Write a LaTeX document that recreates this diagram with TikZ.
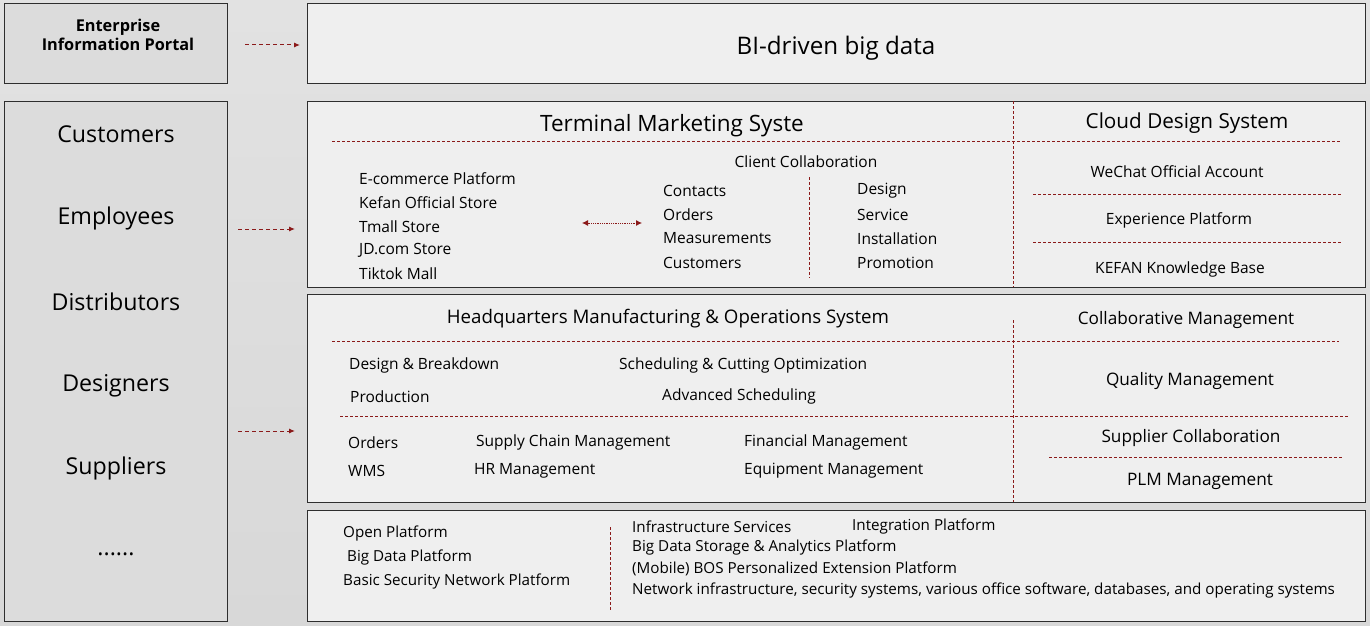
\documentclass[tikz,border=0pt]{standalone}
\usepackage{fontspec}
\setmainfont{Open Sans}
\usetikzlibrary{arrows.meta}
\definecolor{dred}{HTML}{8B1A1A}
\definecolor{boxline}{HTML}{2E2E2E}
\definecolor{bgA}{HTML}{E2E2E2}
\definecolor{bgB}{HTML}{D8D8D8}
\definecolor{lfill}{HTML}{DCDCDC}
\definecolor{rfill}{HTML}{EFEFEF}
\tikzset{
  box/.style={draw=boxline, line width=1.3pt, rectangle, inner sep=0pt, anchor=north west},
  lbox/.style={box, fill=lfill},
  rbox/.style={box, fill=rfill},
  rdash/.style={draw=dred, line width=1pt, dash pattern=on 3pt off 2pt},
  arr/.style={draw=dred, line width=1pt, dash pattern=on 4pt off 3pt, -{Latex[length=6pt,width=5pt]}},
  dbl/.style={draw=dred, line width=0.8pt, densely dotted, {Latex[length=6pt,width=6pt]}-{Latex[length=6pt,width=6pt]}},
  txt/.style={inner sep=0pt, yshift=-1.5pt},
  tb/.style={txt, font=\fontsize{15.5}{18}\selectfont},
  tl/.style={tb, anchor=west},
  tm/.style={txt, font=\fontsize{17.2}{20}\selectfont},
  tt/.style={txt, font=\fontsize{22.5}{26}\selectfont},
  tp/.style={txt, font=\fontsize{23.2}{28}\selectfont},
  tn/.style={tl, font=\fontsize{15.2}{18}\selectfont},
}
\begin{document}
\begin{tikzpicture}[x=1pt,y=-1pt]
\useasboundingbox (0,0) rectangle (1370,626);
\shade[top color=bgA, bottom color=bgB] (0,0) rectangle (1370,626);

% boxes
\node[lbox, minimum width=223pt, minimum height=80pt] (portal) at (4,3) {};
\node[rbox, minimum width=1058pt, minimum height=80pt] (bi) at (307,3) {};
\node[lbox, minimum width=223pt, minimum height=520pt] (users) at (4,101) {};
\node[rbox, minimum width=1058pt, minimum height=186pt] (term) at (307,101) {};
\node[rbox, minimum width=1058pt, minimum height=208pt] (hq) at (307,294) {};
\node[rbox, minimum width=1058pt, minimum height=111pt] (base) at (307,510) {};

% portal
\node[txt, align=center, font=\bfseries\fontsize{16.3}{19}\selectfont] (portalt) at (118,33) {Enterprise\\Information Portal};
\node[txt, font=\fontsize{24.2}{28}\selectfont] (bit) at (836,47) {BI-driven big data};

% users
\node[tp] (u1) at (116,133) {Customers};
\node[tp] (u2) at (116,217) {Employees};
\node[tp] (u3) at (116,300) {Distributors};
\node[tp] (u4) at (116,384) {Designers};
\node[tp] (u5) at (116,467) {Suppliers};
\node[tp] (u6) at (116,553) {......};

% arrows
\coordinate (a0) at (245,45);
\coordinate (a1) at (238,229);
\coordinate (a2) at (238,431);
\draw[arr] (a0) -- ([xshift=-7pt]bi.west |- a0);
\draw[arr] (a1) -- ([xshift=-12pt]term.west |- a1);
\draw[arr] (a2) -- ([xshift=-12pt]hq.west |- a2);

% terminal marketing
\draw[rdash] (1013,101) -- (1013,287);
\draw[rdash] (332,141) -- (1340,141);
\node[tt] (termt) at (672,124) {Terminal Marketing Syste};
\node[txt, font=\fontsize{20.7}{24}\selectfont] (cloudt) at (1187,122) {Cloud Design System};
\node[tb] (cc) at (806,160) {Client Collaboration};
\node[tl] (e1) at (359,177) {E-commerce Platform};
\node[tl] (e2) at (359,201) {Kefan Official Store};
\node[tl] (e3) at (359,225) {Tmall Store};
\node[tl] (e4) at (359,249) {JD.com Store};
\node[tl] (e5) at (359,272) {Tiktok Mall};
\coordinate (dl) at (582,223);
\coordinate (dr) at (642,223);
\draw[dbl] (dl) -- (dr);
\node[tl] (c1) at (663,189) {Contacts};
\node[tl] (c2) at (663,213) {Orders};
\node[tl] (c3) at (663,237) {Measurements};
\node[tl] (c4) at (663,261) {Customers};
\draw[rdash] (809,177) -- (809,278);
\node[tl] (d1) at (857,189) {Design};
\node[tl] (d2) at (857,213) {Service};
\node[tl] (d3) at (857,237) {Installation};
\node[tl] (d4) at (857,261) {Promotion};
\node[tb] (w1) at (1177,170) {WeChat Official Account};
\draw[rdash] (1033,194) -- (1342,194);
\node[tb] (w2) at (1179,219) {Experience Platform};
\draw[rdash] (1033,242) -- (1342,242);
\node[tb] (w3) at (1180,268) {KEFAN Knowledge Base};

% HQ
\node[txt, font=\fontsize{18.7}{22}\selectfont] (hqt) at (668,317) {Headquarters Manufacturing \& Operations System};
\node[tm] (colt) at (1186,319) {Collaborative Management};
\draw[rdash] (332,341) -- (1339,341);
\draw[rdash] (1013,320) -- (1013,502);
\node[tl] (h1) at (349,364) {Design \& Breakdown};
\node[tl] (h2) at (619,364) {Scheduling \& Cutting Optimization};
\node[tl] (h3) at (350,395) {Production};
\node[tl] (h4) at (662,395) {Advanced Scheduling};
\node[tm] (qm) at (1190,380) {Quality Management};
\draw[rdash] (340,416) -- (1348,416);
\node[tl] (o1) at (348,441) {Orders};
\node[tl] (o2) at (476,441) {Supply Chain Management};
\node[tl] (o3) at (744,441) {Financial Management};
\node[tl] (o4) at (348,469) {WMS};
\node[tl] (o5) at (474,469) {HR Management};
\node[tl] (o6) at (744,469) {Equipment Management};
\node[tm] (sc) at (1191,437) {Supplier Collaboration};
\draw[rdash] (1049,457) -- (1343,457);
\node[tm] (plm) at (1200,480) {PLM Management};

% base
\node[tn] (b1) at (343,532) {Open Platform};
\node[tn] (b2) at (347,556) {Big Data Platform};
\node[tn] (b3) at (343,580) {Basic Security Network Platform};
\draw[rdash] (610,527) -- (610,610);
\node[tn] (i1) at (632,525) {Infrastructure Services};
\node[tn] (i2) at (852,525) {Integration Platform};
\node[tn] (i3) at (632,546) {Big Data Storage \& Analytics Platform};
\node[tn] (i4) at (632,567) {(Mobile) BOS Personalized Extension Platform};
\node[tn] (i5) at (632,589) {Network infrastructure, security systems, various office software, databases, and operating systems};
\end{tikzpicture}
\end{document}
